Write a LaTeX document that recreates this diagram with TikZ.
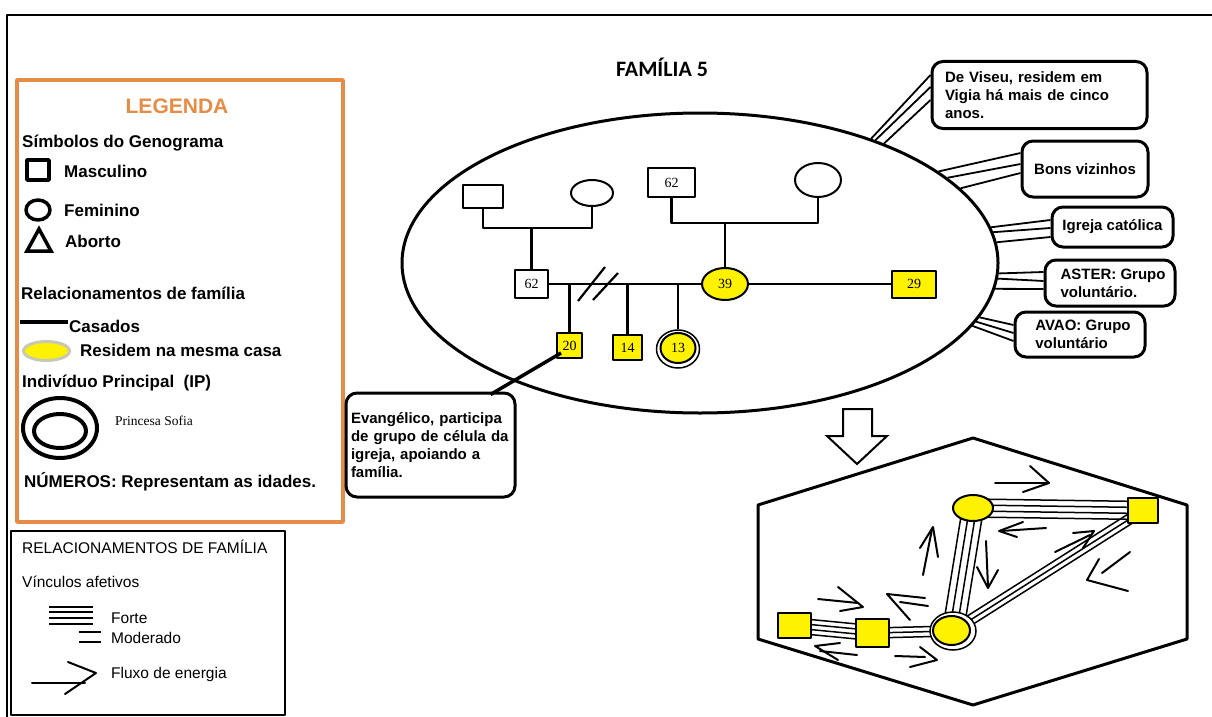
\documentclass[tikz,border=0pt]{standalone}
\usepackage{fontspec}
\setmainfont{Liberation Sans}
\newfontfamily\numfont{Liberation Serif}
\newfontfamily\titlefont{Carlito}
\usetikzlibrary{shapes.geometric,calc,backgrounds}
\definecolor{legorange}{RGB}{230,140,70}
\definecolor{homeyellow}{RGB}{255,242,0}
\definecolor{homegray}{RGB}{200,200,182}

\begin{document}
\begin{tikzpicture}[x=1pt,y=-1pt,line join=round,
  lbl/.style={anchor=base west,inner sep=0,font=\bfseries\fontsize{17}{20}\selectfont},
  lblr/.style={anchor=base west,inner sep=0,font=\fontsize{15.5}{18}\selectfont},
  male/.style={draw,rectangle,line width=2,inner sep=0,font=\numfont\fontsize{14}{16}\selectfont},
  female/.style={draw,ellipse,line width=2,inner sep=0,font=\numfont\fontsize{14}{16}\selectfont},
  home/.style={fill=homeyellow},
  gline/.style={line width=2.2},
  notebox/.style={draw,line width=3,rounded corners=11,align=left,inner ysep=0,
    font=\bfseries\fontsize{15}{18}\selectfont},
  tie/.style={line width=1.8},
  flow/.style={line width=2,line cap=round},
]
\useasboundingbox (0,0) rectangle (1212,717);
\begin{pgfonlayer}{background}
  \fill[white] (0,0) rectangle (1212,717);
\end{pgfonlayer}

% outer frame
\draw[line width=2] (7,717) -- (7,15) -- (1212,15);

% ---------- legend ----------
\draw[legorange,line width=3.5] (17,80) rectangle (343,522);
\node[anchor=base,inner sep=0,text=legorange,font=\bfseries\fontsize{21}{24}\selectfont] (legtitle) at (177,113) {LEGENDA};
\node[lbl] (symtitle) at (22,147) {Símbolos do Genograma};
\node[draw,line width=3.5,minimum width=22,minimum height=20,inner sep=0] (symmale) at (38,170) {};
\node[lbl] (symmaletxt) at (64,177) {Masculino};
\node[draw,ellipse,line width=3.5,minimum width=24,minimum height=20,inner sep=0] (symfem) at (38,210) {};
\node[lbl] (symfemtxt) at (64,216) {Feminino};
\draw[line width=3.5,line join=miter] (39,229) -- (51,251) -- (27,251) -- cycle;
\node[lbl] (symabtxt) at (65,247) {Aborto};
\node[lbl] (reltitle) at (21,299) {Relacionamentos de família};
\draw[line width=4] (20,322) -- (68,322);
\node[lbl] (marrtxt) at (69,332) {Casados};
\node[ellipse,fill=homeyellow,draw=homegray,line width=3,minimum width=46,minimum height=19,inner sep=0] (symhome) at (46.5,351) {};
\node[lbl] (hometxt) at (80,356) {Residem na mesma casa};
\node[lbl] (iptitle) at (22,387) {Indivíduo Principal\ \ (IP)};
\node[draw,ellipse,line width=4,minimum width=74,minimum height=60,inner sep=0] (symipout) at (60,428) {};
\node[draw,ellipse,line width=4,minimum width=52,minimum height=34,inner sep=0] (symipin) at (60,431) {};
\node[anchor=base west,inner sep=0,font=\numfont\fontsize{13.5}{16}\selectfont] (iptxt) at (115,425) {Princesa Sofia};
\node[lbl] (agetxt) at (24,487) {NÚMEROS: Representam as idades.};

\draw[line width=2.5] (11,531) rectangle (285,715);
\node[lblr] (bondtitle) at (22,553) {RELACIONAMENTOS DE FAMÍLIA};
\node[lblr] (bondsub) at (22,587) {Vínculos afetivos};
\foreach \yy in {607,612,618,624} \draw[line width=2] (49,\yy) -- (93,\yy);
\foreach \yy in {632,642} \draw[line width=2.5] (79,\yy) -- (101,\yy);
\node[lblr] (strongtxt) at (111,623) {Forte};
\node[lblr] (modtxt) at (111,643) {Moderado};
\draw[flow] (32,683) -- (85,683);
\draw[flow] (68,662) -- (96,673) -- (65,694);
\node[lblr] (flowtxt) at (111,678) {Fluxo de energia};

% ---------- genogram ----------
\node[anchor=base,inner sep=0,font=\titlefont\bfseries\fontsize{22}{26}\selectfont] (title) at (662,76) {FAMÍLIA 5};
\node[draw,ellipse,line width=3,minimum width=596,minimum height=300,inner sep=0] (fam) at (700,263) {};

\node[male,minimum width=40,minimum height=23] (gfa) at (483,196.5) {};
\node[female,minimum width=42,minimum height=26] (gma) at (592,193) {};
\node[male,minimum width=33,minimum height=28] (fa) at (531.5,284) {62};
\node[male,minimum width=47,minimum height=29] (gfb) at (671.5,182.5) {62};
\node[female,minimum width=46,minimum height=34] (gmb) at (818,180) {};
\node[female,home,minimum width=46,minimum height=32] (mo) at (725,284) {39};
\node[male,home,minimum width=44,minimum height=27] (sp) at (914,284) {29};
\node[male,home,minimum width=25,minimum height=25] (ka) at (569.5,345.5) {20};
\node[male,home,minimum width=29,minimum height=25] (kb) at (627.5,347.5) {14};
\node[female,line width=1.5,minimum width=43,minimum height=38] (ipo) at (678,349) {};
\node[female,home,minimum width=35,minimum height=30] (ip) at (678,348) {13};

\coordinate (barA) at (529,228);
\coordinate (barB) at (726,223);
\draw[gline] (gfa.south) -- (gfa.south |- barA) -| (gma.south);
\draw[gline] (fa.north |- barA) -- (fa.north);
\draw[gline] (gfb.south) -- (gfb.south |- barB) -| (gmb.south);
\draw[gline] (mo.north |- barB) -- (mo.north);
\draw[gline] (fa.east) -- (mo.west);
\draw[gline] (mo.east) -- (sp.west);
\draw[gline] (ka.north |- fa.east) -- (ka.north);
\draw[gline] (kb.north |- fa.east) -- (kb.north);
\draw[gline] (ipo.north |- fa.east) -- (ipo.north);
\draw[gline] (578,301) -- (605,267);
\draw[gline] (593,300) -- (618,273);

% notes
\node[notebox,minimum width=169,minimum height=104,text width=159,inner xsep=5] (ev) at (430.5,445)
  {Evangélico, participa\\de grupo de célula da\\igreja, apoiando a\\família.};
\draw[line width=3.5] ($(ev.north)+(60,3)$) -- ($(ka.south west)+(5,-6)$);

\node[notebox,minimum width=215,minimum height=67,text width=189,inner xsep=13] (nb1) at (1039.5,95)
  {De Viseu, residem em\\Vigia há mais de cinco\\anos.};
\node[notebox,minimum width=126,minimum height=56] (nb2) at (1085,169) {Bons vizinhos};
\node[notebox,minimum width=121,minimum height=40] (nb3) at (1112.5,227) {Igreja católica};
\node[notebox,minimum width=130,minimum height=46] (nb4) at (1110,283) {\hspace*{6pt}ASTER: Grupo\\\hspace*{6pt}voluntário.};
\node[notebox,minimum width=130,minimum height=45] (nb5) at (1080,334.5) {\hspace*{6pt}AVAO: Grupo\\\hspace*{6pt}voluntário};

\foreach \a/\o in {36.4/-20,35.4/-8,33.6/5} \draw[tie] (fam.\a) -- ($(nb1.west)+(0,\o)$);
\foreach \a/\o in {21/-16,19/-5,16.9/4} \draw[tie] (fam.\a) -- ($(nb2.west)+(0,\o)$);
\foreach \a/\o in {7.5/-7,6.1/1,4.2/10} \draw[tie] (fam.\a) -- ($(nb3.west)+(0,\o)$);
\foreach \a/\o in {358.65/-11,357.3/-2,355.9/6} \draw[tie] (fam.\a) -- ($(nb4.west)+(0,\o)$);
\foreach \a/\o in {349.9/-9.5,348.6/-1.5,347.1/6.5} \draw[tie] (fam.\a) -- ($(nb5.west)+(0,\o)$);

% ---------- eco-map ----------
\draw[line width=2,line join=miter] (843,409) -- (872,409) -- (872,436) -- (887,436) -- (857,464) -- (827,436) -- (843,436) -- cycle;
\draw[line width=3] (973,438) -- (1187,505) -- (1187,639) -- (973,705) -- (758,639) -- (758,505) -- cycle;

\node[female,home,minimum width=40,minimum height=26] (ht) at (973,508) {};
\node[male,home,minimum width=30,minimum height=25] (hr) at (1143,510.5) {};
\node[female,fill=white,line width=1.5,minimum width=46,minimum height=38] (hco) at (953,631) {};
\node[female,home,minimum width=37,minimum height=29] (hc) at (951.5,630.5) {};
\node[male,home,minimum width=33,minimum height=28] (hm) at (872.5,633) {};
\node[male,home,minimum width=33,minimum height=25] (hl) at (794.5,625.5) {};

\begin{pgfonlayer}{background}
  \foreach \o in {-9,-3,3,9} \draw[tie,line width=1.5] ($(ht)!\o pt!90:(hr)$) -- ($(hr)!\o pt!-90:(ht)$);
  \foreach \o in {-10.5,-3.5,3.5,10.5} \draw[tie,line width=1.5] ($(ht)!\o pt!90:(hco)$) -- ($(hco)!\o pt!-90:(ht)$);
  \foreach \o in {-5,0,5} \draw[tie,line width=1.5] ($(hco)!\o pt!90:(hr)$) -- ($(hr)!\o pt!-90:(hco)$);
  \foreach \o in {-5,0,5} \draw[tie,line width=1.5] ($(hco)!\o pt!90:(hm)$) -- ($(hm)!\o pt!-90:(hco)$);
  \foreach \o in {-7.5,-2.5,2.5,7.5} \draw[tie,line width=1.5] ($(hm)!\o pt!90:(hl)$) -- ($(hl)!\o pt!-90:(hm)$);
\end{pgfonlayer}

% energy flow
\draw[flow] (995,483) -- (1048,483);
\draw[flow] (1030,466) -- (1049,483) -- (1023,492);
\draw[flow] (1046,528) -- (1001,531);
\draw[flow] (1023,522) -- (999,531) -- (1017,537);
\draw[flow] (923,575) -- (932,529);
\draw[flow] (920,548) -- (933,527) -- (938,557);
\draw[flow] (986,541) -- (988,587);
\draw[flow] (977,567) -- (988,588) -- (998,570);
\draw[flow] (1055,552) -- (1090,535);
\draw[flow] (1073,533) -- (1094,531) -- (1083,548);
\draw[flow] (1130,552) -- (1102,573);
\draw[flow] (1099,559) -- (1087,580) -- (1128,591);
\draw[flow] (818,599) -- (858,603);
\draw[flow] (838,587) -- (863,607) -- (840,611);
\draw[flow] (900,602) -- (928,606);
\draw[flow] (925,598) -- (887,594) -- (910,620);
\draw[flow] (820,651) -- (857,655);
\draw[flow] (840,643) -- (815,646) -- (838,660);
\draw[flow] (895,656) -- (925,657);
\draw[flow] (920,647) -- (937,660) -- (910,667);
\end{tikzpicture}
\end{document}
